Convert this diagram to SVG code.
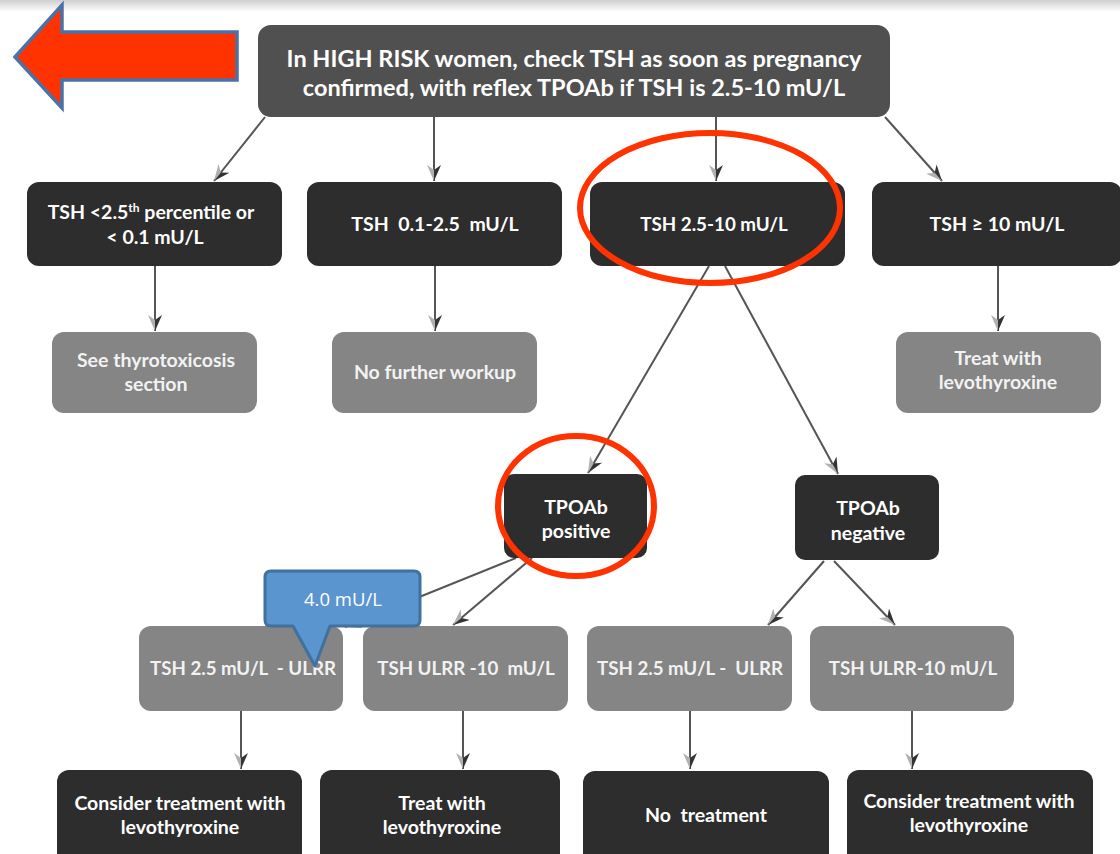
<svg xmlns="http://www.w3.org/2000/svg" width="1120" height="854" viewBox="0 0 1120 854">
<defs>
<linearGradient id="topshade" x1="0" y1="0" x2="0" y2="1">
<stop offset="0" stop-color="#cfcfcf"/>
<stop offset="1" stop-color="#ffffff"/>
</linearGradient>
<marker id="ah" viewBox="0 0 16 14" refX="16" refY="7" markerWidth="16" markerHeight="14" markerUnits="userSpaceOnUse" orient="auto">
<polygon points="0,0 16,7 5,7" fill="#333333"/>
<polygon points="0,14 16,7 5,7" fill="#b0b0b0"/>
</marker>
<style>
.top{fill:#505050}
.dark{fill:#2d2d2d}
.gray{fill:#858585}
.t{font-family:Lato,"Liberation Sans",sans-serif;font-weight:bold;text-anchor:middle;fill:#ffffff;font-size:19.5px}
.tg{font-family:Lato,"Liberation Sans",sans-serif;font-weight:bold;text-anchor:middle;fill:#f2f2f2;font-size:19.5px}
.r4{font-size:18.7px}
.c line{stroke:#555555;stroke-width:2;marker-end:url(#ah)}
.ring{fill:none;stroke:#ff3300;stroke-width:6}
</style>
</defs>
<rect x="0" y="0" width="1120" height="854" fill="#ffffff"/>
<rect x="0" y="0" width="1120" height="12" fill="url(#topshade)"/>

<g id="back-arrow">
<polygon points="15,57 62,5 62,32 237,32 237,80 62,80 62,108" fill="#ff3300" stroke="#4a72a8" stroke-width="3.5" stroke-linejoin="miter"/>
</g>

<g class="c" id="connectors">
<line x1="265" y1="117" x2="214" y2="181"/>
<line x1="434" y1="117" x2="434" y2="181"/>
<line x1="716" y1="117" x2="716" y2="181"/>
<line x1="885" y1="117" x2="942" y2="181"/>
<line x1="155" y1="266" x2="155" y2="331"/>
<line x1="435" y1="266" x2="435" y2="331"/>
<line x1="998" y1="266" x2="998" y2="331"/>
<line x1="709" y1="266" x2="588" y2="473"/>
<line x1="725" y1="266" x2="838" y2="474"/>
<line x1="516" y1="558" x2="345" y2="627"/>
<line x1="532" y1="558" x2="453" y2="625"/>
<line x1="824" y1="561" x2="768" y2="625"/>
<line x1="834" y1="561" x2="895" y2="625"/>
<line x1="241" y1="711" x2="241" y2="769"/>
<line x1="463" y1="711" x2="463" y2="769"/>
<line x1="690" y1="711" x2="690" y2="769"/>
<line x1="912" y1="711" x2="912" y2="769"/>
</g>

<g id="n-top">
<rect class="top" x="258" y="25" width="632" height="92" rx="13"/>
<text class="t" x="574" y="67" style="font-size:23.5px">In HIGH RISK women, check TSH as soon as pregnancy</text>
<text class="t" x="574" y="96" style="font-size:23.5px">confirmed, with reflex TPOAb if TSH is 2.5-10 mU/L</text>
</g>

<g id="n-low">
<rect class="dark" x="27" y="182" width="255" height="84" rx="12"/>
<text class="t" x="151" y="219">TSH &lt;2.5<tspan style="font-size:12px" dy="-7">th</tspan><tspan dy="7"> percentile or</tspan></text>
<text class="t" x="155" y="244">&lt; 0.1 mU/L</text>
</g>
<g id="n-normal">
<rect class="dark" x="307" y="182" width="255" height="84" rx="12"/>
<text class="t" x="435" y="231" xml:space="preserve">TSH  0.1-2.5  mU/L</text>
</g>
<g id="n-mid">
<rect class="dark" x="590" y="182" width="255" height="84" rx="12"/>
<text class="t" x="714" y="231" style="font-size:18.8px">TSH 2.5-10 mU/L</text>
</g>
<g id="n-high">
<rect class="dark" x="872" y="182" width="250" height="84" rx="12"/>
<text class="t" x="997" y="231">TSH ≥ 10 mU/L</text>
</g>

<g id="n-thyro">
<rect class="gray" x="52" y="332" width="205" height="81" rx="12"/>
<text class="tg" x="156" y="367">See thyrotoxicosis</text>
<text class="tg" x="156" y="391">section</text>
</g>
<g id="n-nofurther">
<rect class="gray" x="332" y="332" width="205" height="81" rx="12"/>
<text class="tg" x="435" y="379">No further workup</text>
</g>
<g id="n-treat1">
<rect class="gray" x="896" y="332" width="205" height="81" rx="12"/>
<text class="tg" x="998" y="365">Treat with</text>
<text class="tg" x="998" y="389">levothyroxine</text>
</g>

<g id="n-pos">
<rect class="dark" x="504" y="474" width="143" height="84" rx="10"/>
<text class="t" x="576" y="514">TPOAb</text>
<text class="t" x="576" y="538">positive</text>
</g>
<g id="n-neg">
<rect class="dark" x="795" y="475" width="144" height="85" rx="10"/>
<text class="t" x="868" y="515">TPOAb</text>
<text class="t" x="868" y="540">negative</text>
</g>

<g id="n-pos-low">
<rect class="gray" x="139" y="626" width="204" height="85" rx="12"/>
<text class="tg r4" x="243" y="675" xml:space="preserve">TSH 2.5 mU/L  - ULRR</text>
</g>
<g id="n-pos-high">
<rect class="gray" x="363" y="626" width="205" height="85" rx="12"/>
<text class="tg r4" x="466" y="675" xml:space="preserve">TSH ULRR -10  mU/L</text>
</g>
<g id="n-neg-low">
<rect class="gray" x="587" y="626" width="205" height="85" rx="12"/>
<text class="tg r4" x="690" y="675" xml:space="preserve">TSH 2.5 mU/L -  ULRR</text>
</g>
<g id="n-neg-high">
<rect class="gray" x="810" y="626" width="204" height="85" rx="12"/>
<text class="tg r4" x="913" y="675">TSH ULRR-10 mU/L</text>
</g>

<g id="n-res1">
<rect class="dark" x="57" y="770" width="245" height="100" rx="12"/>
<text class="t" x="180" y="810">Consider treatment with</text>
<text class="t" x="180" y="834">levothyroxine</text>
</g>
<g id="n-res2">
<rect class="dark" x="320" y="770" width="240" height="100" rx="12"/>
<text class="t" x="442" y="810">Treat with</text>
<text class="t" x="442" y="834">levothyroxine</text>
</g>
<g id="n-res3">
<rect class="dark" x="583" y="771" width="246" height="100" rx="12"/>
<text class="t" x="706" y="822" xml:space="preserve">No  treatment</text>
</g>
<g id="n-res4">
<rect class="dark" x="847" y="770" width="246" height="100" rx="12"/>
<text class="t" x="969" y="808">Consider treatment with</text>
<text class="t" x="969" y="832">levothyroxine</text>
</g>

<g id="highlights">
<ellipse class="ring" cx="710" cy="208" rx="130" ry="75"/>
<ellipse class="ring" cx="576" cy="506" rx="78" ry="70"/>
</g>

<g id="callout">
<path d="M271,571 H414 Q420,571 420,577 V620 Q420,626 414,626 H330 L315,666 L293,626 H271 Q265,626 265,620 V577 Q265,571 271,571 Z" fill="#5b95cf" stroke="#41719c" stroke-width="3" stroke-linejoin="round"/>
<text x="343" y="606" font-size="18.5" font-family="'Open Sans','Liberation Sans',sans-serif" text-anchor="middle" fill="#ffffff">4.0 mU/L</text>
</g>
</svg>
